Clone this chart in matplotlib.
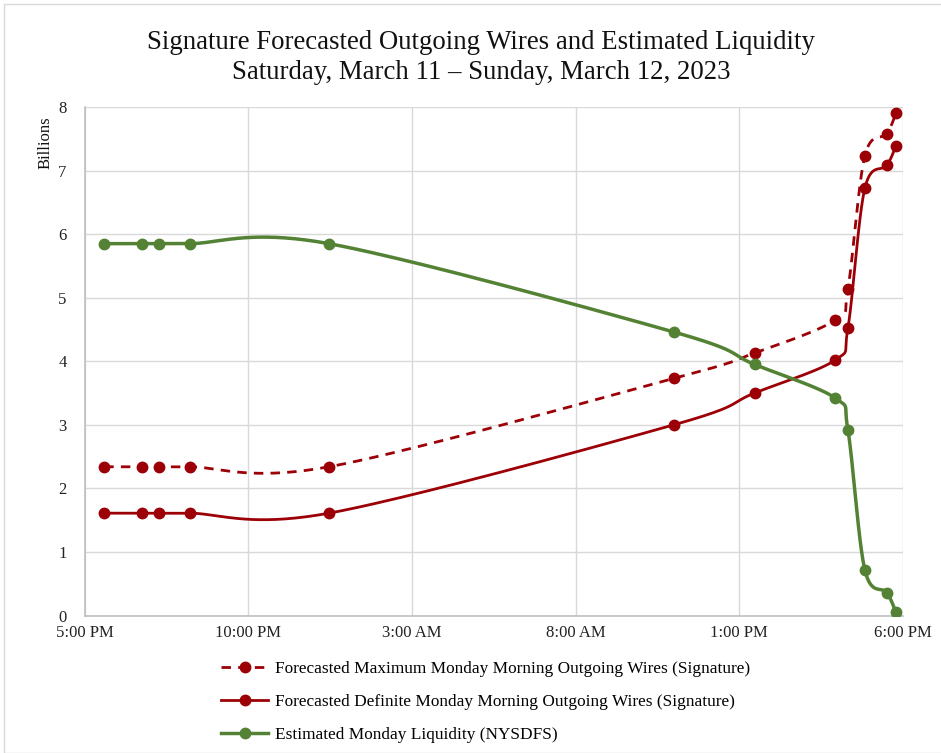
import numpy as np
import pandas as pd
import matplotlib
matplotlib.use("Agg")
import matplotlib.pyplot as plt
import matplotlib.dates as mdates
from matplotlib.patches import Rectangle

# data (billions of dollars)
times = [
    "2023-03-11 17:36", "2023-03-11 18:46", "2023-03-11 19:16", "2023-03-11 20:13",
    "2023-03-12 00:28", "2023-03-12 11:00", "2023-03-12 13:28", "2023-03-12 15:56",
    "2023-03-12 16:19", "2023-03-12 16:50", "2023-03-12 17:30", "2023-03-12 17:47",
]
max_wires = [2.34, 2.34, 2.34, 2.34, 2.34, 3.73, 4.13, 4.65, 5.14, 7.23, 7.58, 7.90]
definite_wires = [1.61, 1.61, 1.61, 1.61, 1.61, 3.00, 3.50, 4.02, 4.52, 6.72, 7.08, 7.39]
liquidity = [5.85, 5.85, 5.85, 5.85, 5.85, 4.46, 3.95, 3.42, 2.92, 0.72, 0.36, 0.05]

x_start = "2023-03-11 17:00"
x_end = "2023-03-12 18:00"
tick_times = pd.date_range(x_start, x_end, freq="5h")
tick_labels = ["5:00 PM", "10:00 PM", "3:00 AM", "8:00 AM", "1:00 PM", "6:00 PM"]

title = "Signature Forecasted Outgoing Wires and Estimated Liquidity\nSaturday, March 11 \u2013 Sunday, March 12, 2023"
labels = [
    "Forecasted Maximum Monday Morning Outgoing Wires (Signature)",
    "Forecasted Definite Monday Morning Outgoing Wires (Signature)",
    "Estimated Monday Liquidity (NYSDFS)",
]

RED = "#9C0006"
GREEN = "#548235"

plt.rcParams["font.family"] = ["Liberation Serif", "DejaVu Serif"]


def smooth(xs, ys, n=40):
    # spreadsheet style smoothed line: cubic bezier through the points,
    # control points from neighbouring points (catmull-rom)
    xs = np.asarray(xs, dtype=float)
    ys = np.asarray(ys, dtype=float)
    px = np.concatenate([[xs[0]], xs, [xs[-1]]])
    py = np.concatenate([[ys[0]], ys, [ys[-1]]])
    out_x, out_y = [xs[0]], [ys[0]]
    t = np.linspace(0, 1, n)[1:]
    for i in range(1, len(px) - 2):
        x0, y0 = px[i], py[i]
        x3, y3 = px[i + 1], py[i + 1]
        x1 = x0 + (px[i + 1] - px[i - 1]) / 6
        y1 = y0 + (py[i + 1] - py[i - 1]) / 6
        x2 = x3 - (px[i + 2] - px[i]) / 6
        y2 = y3 - (py[i + 2] - py[i]) / 6
        a, b, c, d = (1 - t) ** 3, 3 * (1 - t) ** 2 * t, 3 * (1 - t) * t ** 2, t ** 3
        out_x.extend(a * x0 + b * x1 + c * x2 + d * x3)
        out_y.extend(a * y0 + b * y1 + c * y2 + d * y3)
    return np.array(out_x), np.array(out_y)


xt = mdates.date2num(pd.to_datetime(times))

fig = plt.figure(figsize=(9.41, 7.53), dpi=100)
ax = fig.add_axes([84.6 / 941, 1 - 615.5 / 753, (903 - 84.6) / 941, (615.5 - 107) / 753])

series = [
    (max_wires, RED, (0, (3.4, 2.6)), 2.0),
    (definite_wires, RED, "-", 2.0),
    (liquidity, GREEN, "-", 2.5),
]
handles = []
for (vals, col, ls, lw), lab in zip(series, labels):
    sx, sy = smooth(xt, vals)
    ax.plot(sx, sy, color=col, linestyle=ls, linewidth=lw, zorder=3)
    ax.plot(xt, vals, linestyle="none", marker="o", markersize=7.5, color=col, zorder=4)
    h, = ax.plot([], [], color=col, linestyle=ls, linewidth=lw, marker="o", markersize=7.5)
    handles.append(h)

ax.set_xlim(mdates.date2num(pd.Timestamp(x_start)), mdates.date2num(pd.Timestamp(x_end)))
ax.set_ylim(0, 8)
ax.set_xticks(mdates.date2num(tick_times))
ax.set_xticklabels(tick_labels)
ax.set_yticks(range(0, 9))
ax.tick_params(axis="both", length=0, labelsize=12, colors="#222222")
ax.tick_params(axis="x", pad=7)
ax.tick_params(axis="y", pad=13)
ax.grid(True, color="#D9D9D9", linewidth=1.0, zorder=0)
ax.set_axisbelow(True)
for side in ["top", "right"]:
    ax.spines[side].set_visible(False)
for side in ["left", "bottom"]:
    ax.spines[side].set_color("#BFBFBF")
    ax.spines[side].set_linewidth(1.2)

fig.text(481 / 941, 1 - 57.5 / 753, title, ha="center", va="center",
         fontsize=19.3, linespacing=1.3, color="#111111")
fig.text(46 / 941, 1 - 143 / 753, "Billions", rotation=90, ha="center", va="center",
         fontsize=12, color="#111111")

leg = fig.legend(handles, labels, loc="upper left", bbox_to_anchor=(221 / 941, 1 - 661 / 753),
                 frameon=False, fontsize=12.4, handlelength=2.75, handletextpad=0.4,
                 labelspacing=0.98, borderpad=0, borderaxespad=0)

fig.patches.append(Rectangle((4 / 941, 0), 1, 1 - 4 / 753, transform=fig.transFigure,
                             fill=False, edgecolor="#D9D9D9", linewidth=1.0))

fig.savefig("out.png", dpi=100)
